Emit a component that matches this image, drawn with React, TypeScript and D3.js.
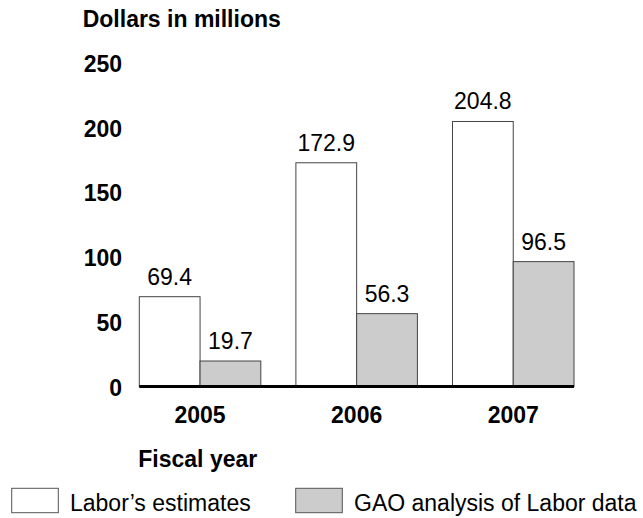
import React from "react";
import * as d3 from "d3";

const years = ["2005", "2006", "2007"];
const seriesNames = ["Labor\u2019s estimates", "GAO analysis of Labor data"];
const laborEstimates = [69.4, 172.9, 204.8];
const gaoAnalysis = [19.7, 56.3, 96.5];
const yTicks = [0, 50, 100, 150, 200, 250];
const seriesFills = ["#ffffff", "#cccccc"];

const FONT = "'Liberation Sans', Arial, Helvetica, sans-serif";

export default function App() {
  const W = 643;
  const H = 518;
  const y = d3.scaleLinear().domain([0, 250]).range([386.5, 63]);
  const x0 = d3.scaleBand<string>().domain(years).range([139.3, 574]).paddingInner(0.224).paddingOuter(0);
  const x1 = d3.scaleBand<number>().domain([0, 1]).range([0, x0.bandwidth()]).padding(0);
  const values = [laborEstimates, gaoAnalysis];

  return (
    <svg width={W} height={H} style={{ position: "absolute", left: 0, top: 0, background: "#fff" }} fontFamily={FONT}>
      <rect x={0} y={0} width={W} height={H} fill="#fff" />
      <text x={82.7} y={26.7} fontSize={23} fontWeight="bold" fill="#000">Dollars in millions</text>
      {yTicks.map((t) => (
        <text key={t} x={122} y={y(t) + 9} fontSize={23} fontWeight="bold" textAnchor="end" fill="#000">{t}</text>
      ))}
      {years.map((yr, i) => (
        <g key={yr} transform={`translate(${x0(yr)},0)`}>
          {values.map((vals, s) => (
            <g key={s}>
              <rect
                x={x1(s)!}
                y={y(vals[i])}
                width={x1.bandwidth()}
                height={y(0) - y(vals[i])}
                fill={seriesFills[s]}
                stroke="#444"
                strokeWidth={1}
              />
              <text
                x={x1(s)! + x1.bandwidth() / 2}
                y={y(vals[i]) - 12}
                fontSize={23}
                textAnchor="middle"
                fill="#000"
              >
                {vals[i].toFixed(1)}
              </text>
            </g>
          ))}
          <text x={x0.bandwidth() / 2} y={423} fontSize={23} fontWeight="bold" textAnchor="middle" fill="#000">{yr}</text>
        </g>
      ))}
      <line x1={139.3} x2={574} y1={y(0)} y2={y(0)} stroke="#000" strokeWidth={3} />
      <text x={138.3} y={466.7} fontSize={23} fontWeight="bold" fill="#000">Fiscal year</text>
      {seriesNames.map((name, s) => {
        const bx = s === 0 ? 11.7 : 295.7;
        return (
          <g key={name}>
            <rect x={bx} y={488.3} width={46.6} height={24.4} fill={seriesFills[s]} stroke="#555" strokeWidth={1} />
            <text x={bx + 58.3} y={510.7} fontSize={23} fill="#000">{name}</text>
          </g>
        );
      })}
    </svg>
  );
}
